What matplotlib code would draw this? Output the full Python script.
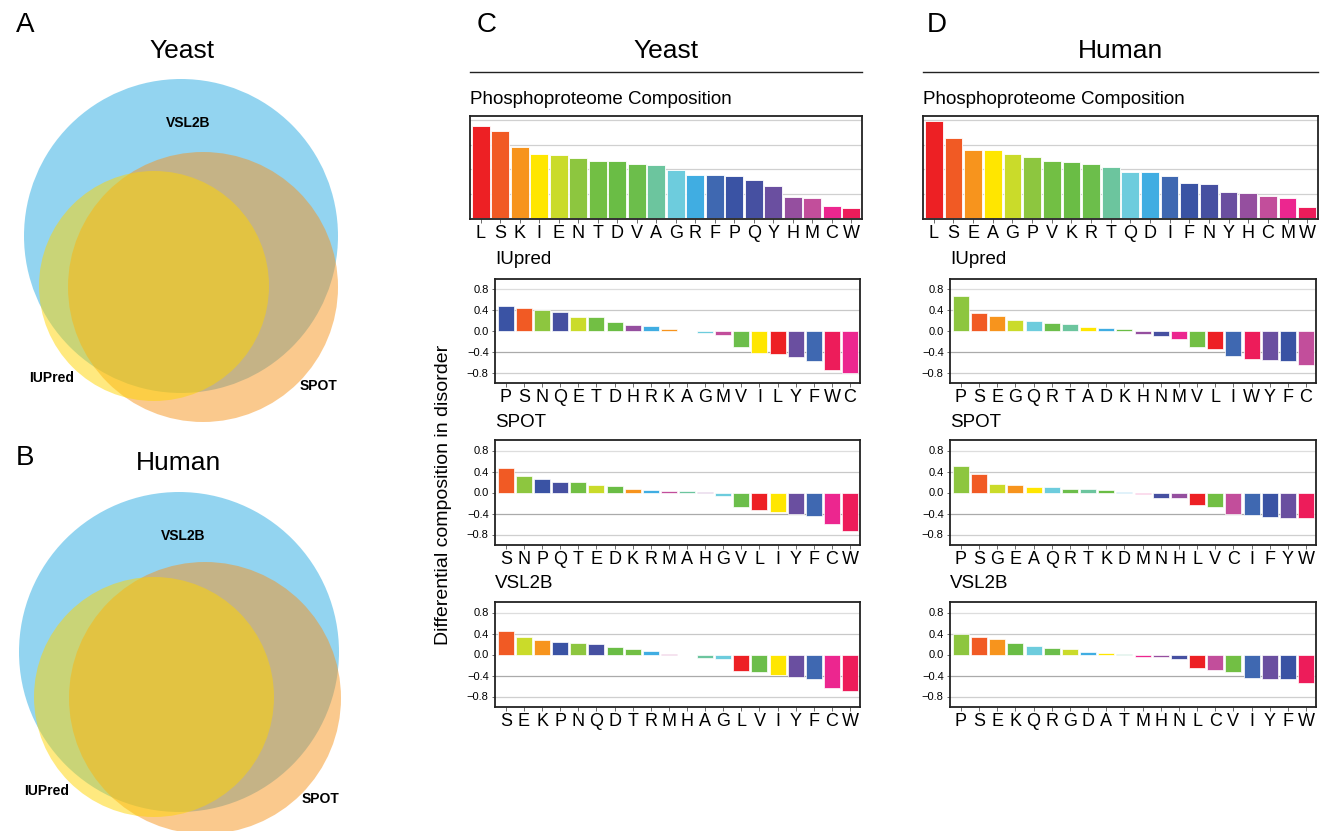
import matplotlib
matplotlib.use("Agg")
import matplotlib.pyplot as plt
from matplotlib.patches import Circle

plt.rcParams['font.family'] = ['Liberation Sans', 'DejaVu Sans']

W, H = 1325, 831

# ---------------- data ----------------
# rainbow palette, assigned by rank in each phosphoproteome composition
palette = ['#ED2024', '#F15A24', '#F7941D', '#FFE600', '#CADB2A', '#8DC63F', '#72BF44',
           '#6ABD45', '#6CBE4B', '#6CC59E', '#6DCCDD', '#40ADE2', '#3F68B1', '#3A53A4',
           '#4650A1', '#6A4FA0', '#954F9F', '#C24E9B', '#EC268F', '#ED1C5A']

yeast_phos_aa = ['L', 'S', 'K', 'I', 'E', 'N', 'T', 'D', 'V', 'A', 'G', 'R', 'F', 'P', 'Q', 'Y', 'H', 'M', 'C', 'W']
yeast_phos = [0.0944, 0.0892, 0.0729, 0.0653, 0.0649, 0.0611, 0.0590, 0.0580, 0.0552, 0.0542,
              0.0497, 0.0441, 0.0441, 0.0434, 0.0392, 0.0333, 0.0215, 0.0208, 0.0125, 0.0104]

human_phos_aa = ['L', 'S', 'E', 'A', 'G', 'P', 'V', 'K', 'R', 'T', 'Q', 'D', 'I', 'F', 'N', 'Y', 'H', 'C', 'M', 'W']
human_phos = [0.0990, 0.0823, 0.0701, 0.0694, 0.0653, 0.0625, 0.0590, 0.0570, 0.0559, 0.0524,
              0.0472, 0.0469, 0.0427, 0.0361, 0.0354, 0.0264, 0.0260, 0.0226, 0.0208, 0.0115]

yeast_iupred_aa = ['P', 'S', 'N', 'Q', 'E', 'T', 'D', 'H', 'R', 'K', 'A', 'G', 'M', 'V', 'I', 'L', 'Y', 'F', 'W', 'C']
yeast_iupred = [0.476, 0.438, 0.406, 0.368, 0.273, 0.267, 0.165, 0.120, 0.095, 0.044, 0.004,
                -0.045, -0.083, -0.311, -0.432, -0.444, -0.495, -0.571, -0.756, -0.806]

yeast_spot_aa = ['S', 'N', 'P', 'Q', 'T', 'E', 'D', 'K', 'R', 'M', 'A', 'H', 'G', 'V', 'L', 'I', 'Y', 'F', 'C', 'W']
yeast_spot = [0.466, 0.315, 0.258, 0.208, 0.195, 0.139, 0.132, 0.069, 0.050, 0.038, 0.038, 0.019,
              -0.069, -0.271, -0.340, -0.372, -0.416, -0.441, -0.605, -0.731]

yeast_vsl_aa = ['S', 'E', 'K', 'P', 'N', 'Q', 'D', 'T', 'R', 'M', 'H', 'A', 'G', 'L', 'V', 'I', 'Y', 'F', 'C', 'W']
yeast_vsl = [0.449, 0.335, 0.272, 0.240, 0.222, 0.209, 0.146, 0.114, 0.070, 0.019, -0.019,
             -0.063, -0.082, -0.323, -0.342, -0.392, -0.437, -0.468, -0.633, -0.703]

human_iupred_aa = ['P', 'S', 'E', 'G', 'Q', 'R', 'T', 'A', 'D', 'K', 'H', 'N', 'M', 'V', 'L', 'I', 'W', 'Y', 'F', 'C']
human_iupred = [0.679, 0.337, 0.279, 0.210, 0.184, 0.146, 0.133, 0.083, 0.057, 0.044, -0.051,
                -0.095, -0.146, -0.305, -0.349, -0.476, -0.533, -0.559, -0.584, -0.654]

human_spot_aa = ['P', 'S', 'G', 'E', 'A', 'Q', 'R', 'T', 'K', 'D', 'M', 'N', 'H', 'L', 'V', 'C', 'I', 'F', 'Y', 'W']
human_spot = [0.498, 0.359, 0.164, 0.145, 0.107, 0.107, 0.076, 0.063, 0.050, 0.019, -0.031,
              -0.100, -0.107, -0.233, -0.271, -0.403, -0.428, -0.460, -0.479, -0.491]

human_vsl_aa = ['P', 'S', 'E', 'K', 'Q', 'R', 'G', 'D', 'A', 'T', 'M', 'H', 'N', 'L', 'C', 'V', 'I', 'Y', 'F', 'W']
human_vsl = [0.399, 0.329, 0.304, 0.222, 0.165, 0.127, 0.101, 0.057, 0.025, 0.019, -0.051,
             -0.057, -0.082, -0.260, -0.297, -0.335, -0.456, -0.462, -0.468, -0.538]

# venn circles: (label, centre x, centre y, radius) in pixel units
venn_colors = {'VSL2B': '#29ABE2', 'SPOT': '#F7941D', 'IUPred': '#FFD400'}
yeast_venn = [('VSL2B', 181, 236, 157), ('SPOT', 203, 287, 135), ('IUPred', 154, 286, 115)]
human_venn = [('VSL2B', 179, 652, 160), ('SPOT', 205, 698, 136), ('IUPred', 154, 697, 120)]


def fx(x):
    return x / W


def fy(y):
    return 1 - y / H


def box(x0, y0, x1, y1):
    return [fx(x0), fy(y1), (x1 - x0) / W, (y1 - y0) / H]


fig = plt.figure(figsize=(W / 100, H / 100), dpi=100)

# ---------------- venn diagrams ----------------
axv = fig.add_axes([0, 0, 400 / W, 1])
axv.set_xlim(0, 400)
axv.set_ylim(H, 0)
axv.axis('off')
for circles in (yeast_venn, human_venn):
    for name, cx, cy, r in circles:
        axv.add_patch(Circle((cx, cy), r, facecolor=venn_colors[name], alpha=0.5, edgecolor='none'))

venn_lab = dict(fontsize=10, fontweight='bold', ha='center', va='center')
axv.text(188, 123, 'VSL2B', **venn_lab)
axv.text(52, 378, 'IUPred', **venn_lab)
axv.text(318, 386, 'SPOT', **venn_lab)
axv.text(183, 536, 'VSL2B', **venn_lab)
axv.text(47, 791, 'IUPred', **venn_lab)
axv.text(320, 799, 'SPOT', **venn_lab)

fig.text(fx(25), fy(25), 'A', fontsize=20, ha='center', va='center')
fig.text(fx(182), fy(51), 'Yeast', fontsize=19, ha='center', va='center')
fig.text(fx(25), fy(458), 'B', fontsize=20, ha='center', va='center')
fig.text(fx(179), fy(463), 'Human', fontsize=19, ha='center', va='center')


# ---------------- bar panels ----------------
def style_axes(ax):
    for s in ax.spines.values():
        s.set_linewidth(1.3)
        s.set_color('#222222')
    ax.set_axisbelow(True)
    ax.tick_params(axis='x', length=3, width=0.6, color='#555555', pad=1, labelsize=13)
    ax.tick_params(axis='y', length=2.5, width=0.6, color='#555555', pad=2, labelsize=8)


def phospho_panel(rect, aa, vals):
    ax = fig.add_axes(rect)
    ax.bar(range(len(aa)), vals, width=0.9, color=palette, edgecolor='white', linewidth=0.6)
    ax.set_xlim(-0.55, len(aa) - 0.45)
    ax.set_ylim(-0.0008, 0.1045)
    ax.set_xticks(range(len(aa)))
    ax.set_xticklabels(aa)
    ax.set_yticks([0.025, 0.05, 0.075, 0.1])
    ax.set_yticklabels([])
    ax.grid(axis='y', color='#d0d0d0', linewidth=0.9)
    style_axes(ax)
    ax.tick_params(axis='y', length=0)
    return ax


def diff_panel(rect, aa, vals, colmap):
    ax = fig.add_axes(rect)
    ax.bar(range(len(aa)), vals, width=0.88, color=[colmap[a] for a in aa],
           edgecolor='white', linewidth=0.5)
    ax.set_xlim(-0.6, len(aa) - 0.45)
    ax.set_ylim(-1.0, 1.0)
    ax.set_xticks(range(len(aa)))
    ax.set_xticklabels(aa)
    ax.set_yticks([0.8, 0.4, 0.0, -0.4, -0.8])
    ax.set_yticklabels(['0.8', '0.4', '0.0', '\u22120.4', '\u22120.8'])
    for yv, c in [(0.8, '#dddddd'), (0.4, '#c8c8c8'), (-0.4, '#aaaaaa'), (-0.8, '#cfcfcf')]:
        ax.axhline(yv, color=c, linewidth=0.9, zorder=0)
    style_axes(ax)
    return ax


columns = [
    dict(x0=470, x1=862, dx0=495, title='Yeast', letter='C', lx=487,
         phos_aa=yeast_phos_aa, phos=yeast_phos,
         diffs=[('IUpred', yeast_iupred_aa, yeast_iupred),
                ('SPOT', yeast_spot_aa, yeast_spot),
                ('VSL2B', yeast_vsl_aa, yeast_vsl)]),
    dict(x0=923, x1=1318, dx0=950, title='Human', letter='D', lx=937,
         phos_aa=human_phos_aa, phos=human_phos,
         diffs=[('IUpred', human_iupred_aa, human_iupred),
                ('SPOT', human_spot_aa, human_spot),
                ('VSL2B', human_vsl_aa, human_vsl)]),
]

diff_rows = [(279, 383, 259), (440, 545, 422), (602, 707, 584)]

for col in columns:
    x0, x1 = col['x0'], col['x1']
    fig.text(fx(col['lx']), fy(25), col['letter'], fontsize=20, ha='center', va='center')
    fig.text(fx((x0 + x1) / 2), fy(51), col['title'], fontsize=19, ha='center', va='center')
    fig.add_artist(plt.Line2D([fx(x0), fx(x1)], [fy(72), fy(72)], color='#222222', linewidth=1.0))
    fig.text(fx(x0), fy(100), 'Phosphoproteome Composition', fontsize=13.5, ha='left', va='center')
    phospho_panel(box(x0, 116, x1, 219), col['phos_aa'], col['phos'])
    colmap = dict(zip(col['phos_aa'], palette))
    for (name, aa, vals), (ya, yb, yl) in zip(col['diffs'], diff_rows):
        fig.text(fx(col['dx0']), fy(yl), name, fontsize=13.5, ha='left', va='center')
        diff_panel(box(col['dx0'], ya, x1 - 2, yb), aa, vals, colmap)

fig.text(fx(444), fy(495), 'Differential composition in disorder', fontsize=14,
         rotation=90, ha='center', va='center')

fig.savefig('out.png', dpi=100)
